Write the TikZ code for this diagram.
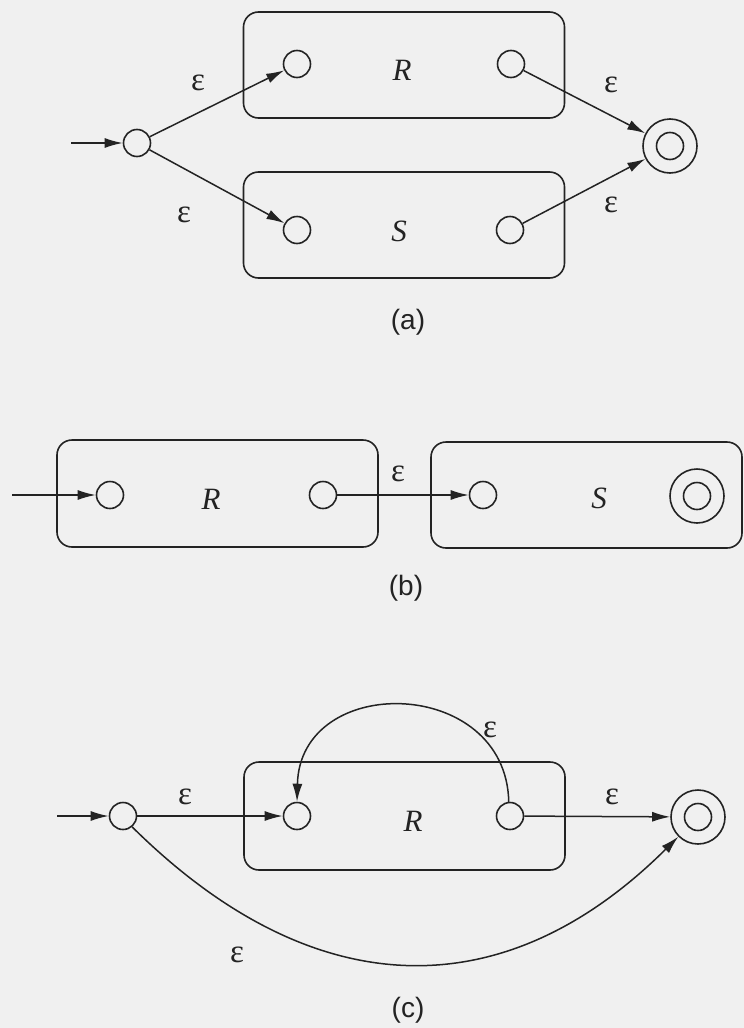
\documentclass[tikz,border=0pt]{standalone}
\usepackage{fontspec}
\setmainfont{Liberation Serif}
\newfontfamily\capfont{Liberation Sans}
\usetikzlibrary{arrows.meta}
\definecolor{bgcol}{RGB}{240,240,240}
\definecolor{inkcol}{RGB}{35,35,35}
\tikzset{
  state/.style={circle,draw=inkcol,line width=1.6pt,minimum size=27pt,inner sep=0pt},
  accept/.style={circle,draw=inkcol,line width=1.6pt,minimum size=54pt,inner sep=0pt},
  autbox/.style={draw=inkcol,line width=1.6pt,rounded corners=15pt,inner sep=0pt},
  edge/.style={draw=inkcol,line width=1.5pt,-{Latex[length=18pt,width=10pt]}},
  eps/.style={text=inkcol,font=\fontsize{33}{36}\selectfont},
  autname/.style={text=inkcol,font=\fontsize{31}{34}\selectfont\itshape},
  caption/.style={text=inkcol,font=\capfont\fontsize{28}{32}\selectfont}
}
\begin{document}
\begin{tikzpicture}[x=1pt,y=-1pt]
\useasboundingbox (0,0) rectangle (744,1028);
\fill[bgcol] (0,0) rectangle (744,1028);

% ---------- (a) ----------
\node[autbox,minimum width=321pt,minimum height=106pt] (boxRa) at (404,65) {};
\node[autbox,minimum width=321pt,minimum height=106pt] (boxSa) at (404,225) {};
\node[state] (q0a) at (137,143) {};
\node[state] (ra1) at (297,64) {};
\node[state] (ra2) at (511,64) {};
\node[state] (sa1) at (297,230) {};
\node[state] (sa2) at (510,230) {};
\node[accept] (fa) at (670,146) {};
\node[state] (fai) at (670,146) {};
\node[autname] (labRa) at (402,70) {R};
\node[autname] (labSa) at (399,231) {S};
\coordinate (ina) at (71,143);
\draw[edge] (ina) -- (q0a);
\draw[edge] (q0a) -- (ra1);
\draw[edge] (q0a) -- (sa1);
\draw[edge] (ra2) -- (fa);
\draw[edge] (sa2) -- (fa);
\node[eps] (ea1) at (198,83) {ε};
\node[eps] (ea2) at (184,215) {ε};
\node[eps] (ea3) at (611,85) {ε};
\node[eps] (ea4) at (611,205) {ε};
\node[caption] (capa) at (408,322) {(a)};

% ---------- (b) ----------
\node[autbox,minimum width=321pt,minimum height=107pt] (boxRb) at (217.5,493.5) {};
\node[autbox,minimum width=311pt,minimum height=106pt] (boxSb) at (586.5,495) {};
\node[state] (rb1) at (110,495) {};
\node[state] (rb2) at (323,495) {};
\node[state] (sb1) at (483,495) {};
\node[accept] (fb) at (697,496) {};
\node[state] (fbi) at (697,496) {};
\node[autname] (labRb) at (211,499) {R};
\node[autname] (labSb) at (599,498) {S};
\coordinate (inb) at (12,495);
\draw[edge] (inb) -- (rb1);
\draw[edge] (rb2) -- (sb1);
\node[eps] (eb1) at (398,474) {ε};
\node[caption] (capb) at (406,588) {(b)};

% ---------- (c) ----------
\node[autbox,minimum width=321pt,minimum height=108pt] (boxRc) at (404.5,816) {};
\node[state] (q0c) at (123,816) {};
\node[state] (rc1) at (297,816) {};
\node[state] (rc2) at (510,816) {};
\node[accept] (fc) at (698,817) {};
\node[state] (fci) at (698,817) {};
\node[autname] (labRc) at (413,821) {R};
\coordinate (inc) at (57,816);
\draw[edge] (inc) -- (q0c);
\draw[edge] (q0c) -- (rc1);
\draw[edge] (rc2) -- (fc);
\draw[edge] (rc2.95) .. controls (506,676) and (300,672) .. (rc1.north);
\draw[edge] (q0c.-50) .. controls (312,1005) and (503,1011) .. (fc.-135);
\node[eps] (ec1) at (185,797) {ε};
\node[eps] (ec2) at (612,797) {ε};
\node[eps] (ec3) at (490,730) {ε};
\node[eps] (ec4) at (237,955) {ε};
\node[caption] (capc) at (408,1010) {(c)};
\end{tikzpicture}
\end{document}
